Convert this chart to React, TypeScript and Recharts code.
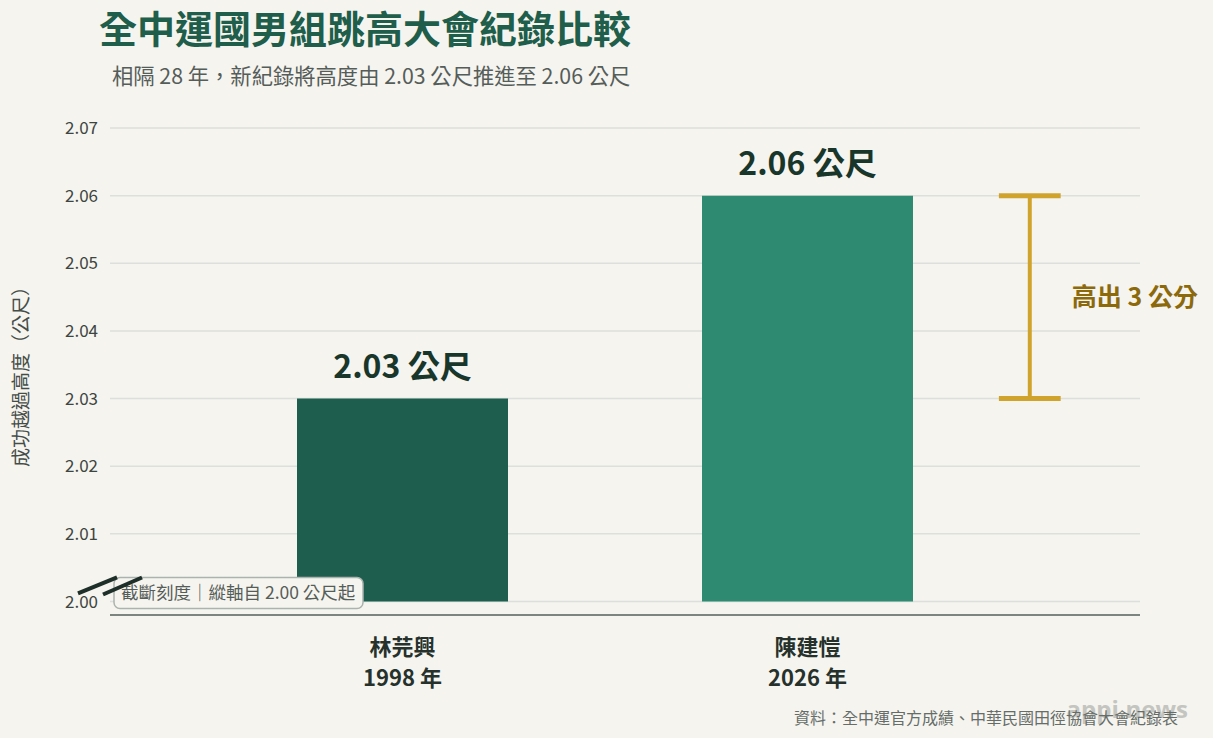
import {
  BarChart,
  Bar,
  Cell,
  XAxis,
  YAxis,
  CartesianGrid,
  LabelList,
  ReferenceLine,
} from "recharts";

const athletes = ["林芫興", "陳建愷"];
const years = ["1998 年", "2026 年"];
const heights = [2.03, 2.06];
const yTicks = [2.0, 2.01, 2.02, 2.03, 2.04, 2.05, 2.06, 2.07];
const axisFloor = 2.0;
const barColors = ["#1e5e4e", "#2e8b72"];

const FONT = '"Noto Sans CJK TC", "Noto Sans", sans-serif';
const BG = "#f5f4ef";
const GOLD = "#d0a42c";

const chartData = athletes.map((name, i) => ({
  name,
  year: years[i],
  height: heights[i],
  range: [axisFloor, heights[i]],
}));

// bracket sits on a hidden 0..1 axis across the plot width
const bracketX = 0.893;
const capHalf = 0.03;

function CategoryTick(props: any) {
  const { x, y, payload, index } = props;
  return (
    <g>
      <text x={x} y={y + 32} textAnchor="middle" fill="#26312c" fontSize={22} fontWeight={700} fontFamily={FONT}>
        {payload.value}
      </text>
      <text x={x} y={y + 63} textAnchor="middle" fill="#26312c" fontSize={22} fontWeight={700} fontFamily={FONT}>
        {years[index]}
      </text>
    </g>
  );
}

function BreakNote(props: any) {
  const { viewBox } = props;
  const x = viewBox.x;
  const y = viewBox.y;
  return (
    <g>
      <rect x={x + 4} y={y - 24} width={249} height={31} rx={6} fill={BG} stroke="#aab3ae" strokeWidth={1.5} />
      <text x={x + 11} y={y - 2} fill="#555d59" fontSize={17.5} fontFamily={FONT}>
        截斷刻度｜縱軸自 2.00 公尺起
      </text>
      <line x1={x - 32} y1={y - 8} x2={x + 7} y2={y - 24} stroke="#1e2e28" strokeWidth={4} />
      <line x1={x - 7} y1={y - 7} x2={x + 32} y2={y - 24} stroke="#1e2e28" strokeWidth={4} />
    </g>
  );
}

export default function App() {
  return (
    <div
      style={{
        position: "absolute",
        left: 0,
        top: 0,
        width: 1213,
        height: 738,
        background: BG,
        fontFamily: FONT,
        overflow: "hidden",
      }}
    >
      <div style={{ position: "absolute", left: 99, top: -1, fontSize: 38, fontWeight: 700, color: "#1e5e4a", whiteSpace: "nowrap" }}>
        全中運國男組跳高大會紀錄比較
      </div>
      <div style={{ position: "absolute", left: 112, top: 59, fontSize: 21.3, color: "#555d5a", whiteSpace: "nowrap" }}>
        相隔 28 年，新紀錄將高度由 2.03 公尺推進至 2.06 公尺
      </div>
      <div
        style={{
          position: "absolute",
          left: 19,
          top: 372,
          transform: "translate(-50%, -50%) rotate(-90deg)",
          fontSize: 19,
          color: "#454d49",
          whiteSpace: "nowrap",
        }}
      >
        成功越過高度（公尺）
      </div>

      <div style={{ position: "absolute", left: 0, top: 0 }}>
        <BarChart
          width={1213}
          height={738}
          data={chartData}
          margin={{ top: 128, right: 73, left: 50, bottom: 63 }}
        >
          <CartesianGrid vertical={false} stroke="#dcdfdb" strokeWidth={1.5} />
          <XAxis
            xAxisId="cat"
            dataKey="name"
            height={60}
            padding={{ left: 90, right: 130 }}
            axisLine={{ stroke: "#7b8681", strokeWidth: 2 }}
            tickLine={false}
            tick={<CategoryTick />}
          />
          <XAxis xAxisId="pos" type="number" domain={[0, 1]} hide />
          <YAxis
            width={60}
            domain={[1.998, 2.07]}
            ticks={yTicks}
            tickFormatter={(v: number) => v.toFixed(2)}
            axisLine={false}
            tickLine={false}
            tickMargin={6}
            tick={{ fill: "#3d4541", fontSize: 17, fontFamily: FONT }}
            allowDataOverflow
          />
          <Bar xAxisId="cat" dataKey="range" barSize={211} isAnimationActive={false}>
            {chartData.map((d, i) => (
              <Cell key={d.name} fill={barColors[i]} />
            ))}
            <LabelList
              dataKey="height"
              position="top"
              offset={21}
              formatter={(v: any) => `${Number(v).toFixed(2)} 公尺`}
              style={{ fill: "#19362b", fontSize: 32, fontWeight: 700, fontFamily: FONT }}
            />
          </Bar>
          <ReferenceLine xAxisId="cat" y={axisFloor} stroke="none" label={<BreakNote />} />
          <ReferenceLine
            xAxisId="pos"
            segment={[
              { x: bracketX, y: heights[0] },
              { x: bracketX, y: heights[1] },
            ]}
            stroke={GOLD}
            strokeWidth={4}
            label={{
              value: `高出 ${Math.round((heights[1] - heights[0]) * 100)} 公分`,
              position: "right",
              offset: 42,
              fill: "#8c6a0c",
              fontSize: 25,
              fontWeight: 700,
              fontFamily: FONT,
            }}
          />
          <ReferenceLine
            xAxisId="pos"
            segment={[
              { x: bracketX - capHalf, y: heights[1] },
              { x: bracketX + capHalf, y: heights[1] },
            ]}
            stroke={GOLD}
            strokeWidth={5}
          />
          <ReferenceLine
            xAxisId="pos"
            segment={[
              { x: bracketX - capHalf, y: heights[0] },
              { x: bracketX + capHalf, y: heights[0] },
            ]}
            stroke={GOLD}
            strokeWidth={5}
          />
        </BarChart>
      </div>

      <div
        style={{
          position: "absolute",
          right: 25,
          top: 692,
          fontSize: 24,
          fontWeight: 700,
          color: "#c4c5c0",
          fontFamily: '"Open Sans", sans-serif',
          whiteSpace: "nowrap",
        }}
      >
        appi.news
      </div>
      <div style={{ position: "absolute", right: 35, top: 705, fontSize: 16, color: "#666d69", whiteSpace: "nowrap" }}>
        資料：全中運官方成績、中華民國田徑協會大會紀錄表
      </div>
    </div>
  );
}
